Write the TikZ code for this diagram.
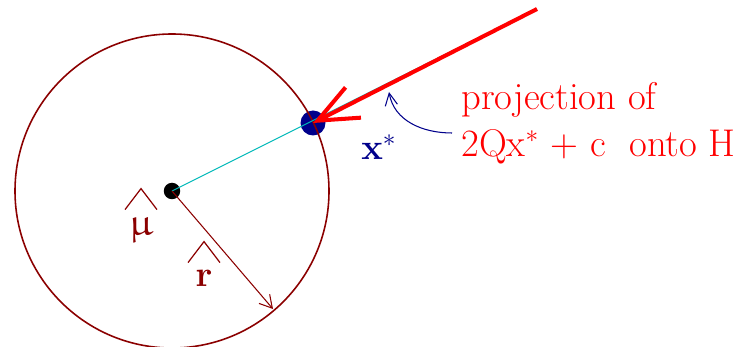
\documentclass[tikz,border=0pt]{standalone}
\usepackage{amsmath}
\usepackage[Euler]{upgreek}
\usetikzlibrary{arrows.meta,positioning}
\definecolor{ballred}{HTML}{8B0000}
\definecolor{projred}{HTML}{FF0000}
\definecolor{raycyan}{HTML}{00B8B8}
\definecolor{pointblue}{HTML}{00008B}
\newcommand{\bighat}[1]{\overset{\tikz\draw[line width=0.7pt, line join=miter] (0cm,0cm) -- (0.32cm,0.42cm) -- (0.64cm,0cm);}{#1}}
\tikzset{
  ballline/.style={ballred, line width=0.9pt},
  rayline/.style={raycyan, line width=0.6pt},
  radiusarrow/.style={ballred, line width=0.6pt, -{Straight Barb[length=7pt, width=8pt]}},
  projarrow/.style={projred, line width=2.3pt, -{Straight Barb[length=0.8cm, width=0.68cm]}},
  pointerarrow/.style={pointblue, line width=0.6pt, -{Straight Barb[length=7pt, width=7pt]}},
  centerdot/.style={circle, fill=black, inner sep=0pt, minimum size=0.33cm},
  xdot/.style={circle, fill=pointblue, inner sep=0pt, minimum size=0.5cm},
  bigtext/.style={font=\fontsize{22}{26.5}\selectfont, inner sep=0pt},
  ballnote/.style={bigtext, ballred},
  pointnote/.style={bigtext, pointblue},
  projnote/.style={bigtext, projred, align=left}
}
\begin{document}
\begin{tikzpicture}[x=0.02cm, y=-0.02cm]
  \useasboundingbox (0,0) rectangle (751,347);
  \node[centerdot] (mu) at (172,191) {};
  \node[xdot] (xstar) at (313,123) {};
  \coordinate (rayend) at (504,25);
  \coordinate (projstart) at (537,9);
  \coordinate (rim) at (273,309);
  \draw[ballline] (mu.center) circle[radius=157];
  \draw[rayline] (mu.center) -- (rayend);
  \draw[radiusarrow] (mu.center) -- (rim);
  \draw[projarrow] (projstart) -- (xstar.center);
  % labels
  \node[ballnote, anchor=north] (mulabel) at (141,184) {$\bighat{\upmu}$};
  \node[ballnote, anchor=north] (rlabel) at (204,237) {$\bighat{\mathbf{r}}$};
  \node[pointnote, anchor=base west] (xlabel) at (361,160) {$\mathbf{x}^{*}$};
  \node[projnote, anchor=north west] (projtext) at (461,82) {projection of\\2Qx$^*$ + c \ onto H};
  \coordinate (pointertail) at (452,133);
  \coordinate (pointerhead) at (389,92);
  \draw[pointerarrow] (pointertail) to[out=180, in=-80] (pointerhead);
\end{tikzpicture}
\end{document}
